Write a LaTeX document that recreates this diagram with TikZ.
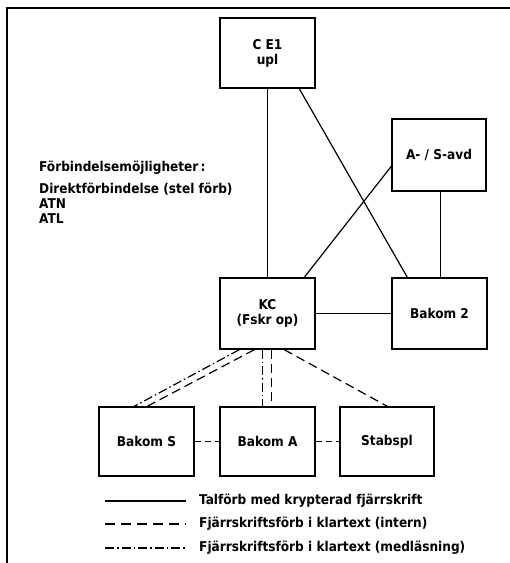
\documentclass[tikz,border=0pt]{standalone}
\usepackage{fontspec}
\newfontfamily\diafont{DejaVuSansCondensed-Bold.ttf}
\usetikzlibrary{calc}
\begin{document}
\begin{tikzpicture}[x=1pt,y=-1pt,
  box/.style={draw,line width=1.4pt,minimum width=95pt,minimum height=70pt,inner sep=0pt,align=center,font=\diafont\fontsize{13.5}{15}\selectfont},
  lbl/.style={anchor=west,inner sep=0pt,font=\diafont\fontsize{13.5}{15}\selectfont},
  solidcon/.style={line width=1.2pt},
  dashcon/.style={line width=1.2pt,dash pattern=on 9pt off 5pt},
  dotcon/.style={line width=1.2pt,dash pattern=on 9pt off 3pt on 1.5pt off 3pt}]
\useasboundingbox (0,0) rectangle (510,563);
% frame
\draw[line width=2.5pt] (7,563) -- (7,8) -- (510,8);
% boxes
\node[box] (ce) at (267.5,53) {C E1\\upl};
\node[box,minimum width=94pt,minimum height=72pt] (as) at (439,155) {A- / S-avd};
\node[box,minimum height=71pt] (kc) at (267.5,313.5) {KC\\(Fskr op)};
\node[box,minimum height=71pt] (b2) at (439.5,313.5) {Bakom 2};
\node[box,minimum height=69pt] (bs) at (146.5,441.5) {Bakom S};
\node[box,minimum height=69pt] (ba) at (267.5,441.5) {Bakom A};
\node[box,minimum width=94pt,minimum height=69pt] (sp) at (387,441.5) {Stabspl};
% left text
\node[lbl] (t1) at (39,168) {Förbindelsemöjligheter\,:};
\node[lbl] (t2) at (39,189) {Direktförbindelse (stel förb)};
\node[lbl] (t3) at (39,204) {ATN};
\node[lbl] (t4) at (39,219) {ATL};
% solid connectors
\draw[solidcon] (ce.south) -- (kc.north);
\draw[solidcon] ([xshift=80pt]ce.south west) -- ([xshift=16pt]b2.north west);
\draw[solidcon] ([yshift=-48pt]as.north west) -- ([xshift=85pt]kc.north west);
\draw[solidcon] ([xshift=49pt]as.south west) -- ([xshift=49pt]b2.north west);
\draw[solidcon] (kc.east) -- (b2.west);
% lower connectors
\draw[dotcon] ([xshift=20pt]kc.south west) -- ([xshift=36pt]bs.north west);
\draw[dashcon] ([xshift=35pt]kc.south west) -- ([xshift=49pt]bs.north west);
\draw[dotcon] ([xshift=43pt]kc.south west) -- ([xshift=43pt]ba.north west);
\draw[dashcon] ([xshift=52pt]kc.south west) -- ([xshift=52pt]ba.north west);
\draw[dashcon] ([xshift=65pt]kc.south west) -- ([xshift=48pt]sp.north west);
\draw[dashcon,dash pattern=on 6pt off 4pt] (bs.east) -- (ba.west);
\draw[dashcon,dash pattern=on 6pt off 4pt] (ba.east) -- (sp.west);
% legend
\coordinate (l1a) at (105,501); \coordinate (l1b) at (186,501);
\coordinate (l2a) at (105,524); \coordinate (l2b) at (186,524);
\coordinate (l3a) at (105,548); \coordinate (l3b) at (186,548);
\draw[solidcon] (l1a) -- (l1b);
\draw[dashcon,dash pattern=on 10pt off 6pt] (l2a) -- (l2b);
\draw[dotcon] (l3a) -- (l3b);
\node[lbl] (g1) at (199,501) {Talförb med krypterad fjärrskrift};
\node[lbl] (g2) at (199,524) {Fjärrskriftsförb i klartext (intern)};
\node[lbl] (g3) at (199,548) {Fjärrskriftsförb i klartext (medläsning)};
\end{tikzpicture}
\end{document}
